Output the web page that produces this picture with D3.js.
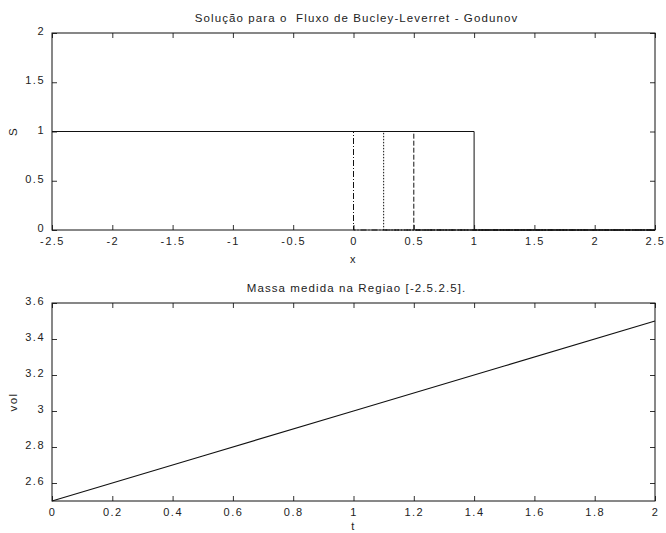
<!DOCTYPE html>
<html><head><meta charset="utf-8">
<script src="https://cdn.jsdelivr.net/npm/d3@7"></script>
<style>body{margin:0;background:#fff}svg{display:block}text{font-family:"Liberation Sans",Arial,sans-serif;fill:#222;white-space:pre;letter-spacing:1.5px}</style>
</head><body><svg id="c" width="666" height="533"></svg>
<script>
// Top panel: saturation profiles S(x) at several times (shock fronts)
const topTitle = "Solução para o  Fluxo de Bucley-Leverret - Godunov";
const topXTicks = [-2.5,-2,-1.5,-1,-0.5,0,0.5,1,1.5,2,2.5];
const topYTicks = [0,0.5,1,1.5,2];
const seriesA_x = [-2.5, 0, 0, 2.5],    seriesA_S = [1,1,0,0];
const seriesB_x = [-2.5, 0.25, 0.25, 2.5], seriesB_S = [1,1,0,0];
const seriesC_x = [-2.5, 0.5, 0.5, 2.5], seriesC_S = [1,1,0,0];
const seriesD_x = [-2.5, 1, 1, 2.5],    seriesD_S = [1,1,0,0];
// Bottom panel: volume in region vs time
const botTitle = "Massa medida na Regiao [-2.5.2.5].";
const tVals = [0, 0.5, 1, 1.5, 2];
const volVals = [2.5, 2.75, 3.0, 3.25, 3.5];
const botXTicks = [0,0.2,0.4,0.6,0.8,1,1.2,1.4,1.6,1.8,2];
const botYTicks = [2.6,2.8,3,3.2,3.4,3.6];

const svg = d3.select("#c");
const L = 52, R = 655;

function panel(top, bottom, xDom, yDom, xTicks, yTicks, title, xlab, ylab, fmtX, fmtY, xlabOff){
  const x = d3.scaleLinear().domain(xDom).range([L,R]);
  const y = d3.scaleLinear().domain(yDom).range([bottom,top]);
  const g = svg.append("g");
  const tl = 5;
  const ax = g.append("g").attr("transform",`translate(0,${bottom})`)
    .call(d3.axisBottom(x).tickValues(xTicks).tickSizeInner(-tl).tickSizeOuter(0).tickPadding(7).tickFormat(fmtX));
  const axT = g.append("g").attr("transform",`translate(0,${top})`)
    .call(d3.axisTop(x).tickValues(xTicks).tickSizeInner(-tl).tickSizeOuter(0).tickFormat(""));
  const ay = g.append("g").attr("transform",`translate(${L},0)`)
    .call(d3.axisLeft(y).tickValues(yTicks).tickSizeInner(-tl).tickSizeOuter(0).tickPadding(7).tickFormat(fmtY));
  const ayR = g.append("g").attr("transform",`translate(${R},0)`)
    .call(d3.axisRight(y).tickValues(yTicks).tickSizeInner(-tl).tickSizeOuter(0).tickFormat(""));
  [ax,axT,ay,ayR].forEach(a=>{
    a.select(".domain").remove();
    a.selectAll("line").attr("stroke","#333");
    a.selectAll("text").attr("font-size","11px").attr("font-family",null).style("fill","#222");
  });
  ay.selectAll("text").attr("dy","0.15em");
  g.append("rect").attr("x",L).attr("y",top).attr("width",R-L).attr("height",bottom-top)
    .attr("fill","none").attr("stroke","#111").attr("stroke-width",1);
  g.append("text").attr("x",(L+R)/2+3).attr("y",top-11).attr("text-anchor","middle").attr("font-size","11.5px").style("letter-spacing","1.1px").text(title);
  g.append("text").attr("x",(L+R)/2).attr("y",bottom+xlabOff).attr("text-anchor","middle").attr("font-size","11px").text(xlab);
  g.append("text").attr("transform",`translate(17,${(top+bottom)/2}) rotate(-90)`).attr("text-anchor","middle").attr("font-size","11.5px").text(ylab);
  return {x,y,g};
}

const fmtNum = d => (d<0?"-":"")+Math.abs(d);
const p1 = panel(33, 230, [-2.5,2.5], [0,2], topXTicks, topYTicks, topTitle, "x", "S", fmtNum, fmtNum, 33);
const line1 = d3.line().x(d=>p1.x(d[0])).y(d=>p1.y(d[1]));
const topSeries = [
  {xs:seriesA_x, ys:seriesA_S, dash:"6,2,1,2"},
  {xs:seriesB_x, ys:seriesB_S, dash:"1.5,1.5"},
  {xs:seriesC_x, ys:seriesC_S, dash:"5,2"},
  {xs:seriesD_x, ys:seriesD_S, dash:null}
];
topSeries.forEach(s=>{
  p1.g.append("path").datum(s.xs.map((v,i)=>[v,s.ys[i]]))
    .attr("d",line1).attr("fill","none").attr("stroke","#111").attr("stroke-width",1)
    .attr("stroke-dasharray",s.dash);
});

const p2 = panel(303, 501, [0,2], [2.5,3.6], botXTicks, botYTicks, botTitle, "t", "vol", fmtNum, fmtNum, 29);
const line2 = d3.line().x(d=>p2.x(d[0])).y(d=>p2.y(d[1]));
p2.g.append("path").datum(tVals.map((v,i)=>[v,volVals[i]]))
  .attr("d",line2).attr("fill","none").attr("stroke","#111").attr("stroke-width",1.2);
</script></body></html>
